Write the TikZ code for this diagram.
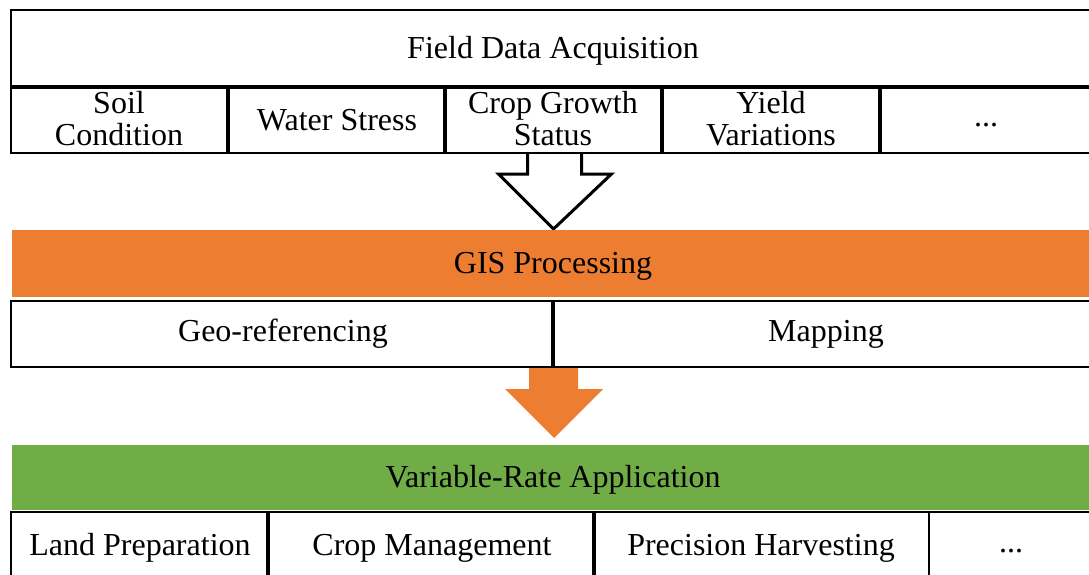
\documentclass[tikz,border=0pt]{standalone}
\usepackage{fontspec}
\setmainfont{Liberation Serif}
\usetikzlibrary{calc}
\definecolor{gisorange}{HTML}{ED7D31}
\definecolor{vragreen}{HTML}{70AD47}
\begin{document}
\begin{tikzpicture}[x=1pt,y=-1pt,
  every node/.style={font=\fontsize{32}{32}\selectfont, inner sep=0pt, outer sep=0pt},
  cell/.style={draw=black, line width=2.2pt, fill=white, anchor=north west, align=center},
  bar/.style={anchor=north west, inner sep=0pt},
  hollowarrow/.style={draw=black, line width=3pt, fill=white, line join=miter},
  fillarrow/.style={fill=gisorange, draw=none}
]
\useasboundingbox (0,0) rectangle (1089,575);
\clip (0,0) rectangle (1089,575);
\fill[white] (0,0) rectangle (1089,575);

% Top header
\node[cell, line width=2.8pt, minimum width=1090, minimum height=76] (fda) at (11,10) {};
\node at (553,51) (fdat) {Field Data Acquisition};

% Row of data boxes
\node[cell, minimum width=216, minimum height=65] (soil) at (11,88) {};
\node[cell, minimum width=215, minimum height=65] (water) at (229,88) {};
\node[cell, minimum width=215, minimum height=65] (crop) at (446,88) {};
\node[cell, minimum width=216, minimum height=65] (yield) at (663,88) {};
\node[cell, minimum width=230, minimum height=65] (dots1) at (881,88) {};
\node[align=center] at (119,119) {Soil\\Condition};
\node at (337,120) {Water Stress};
\node[align=center] at (553,119) {Crop Growth\\Status};
\node[align=center] at (771,119) {Yield\\Variations};
\node at (986,125) {...};

% Hollow arrow
\coordinate (ha) at ($(crop.south)+(0,1)$);
\draw[hollowarrow] ($(ha)+(-26,0)$) -- ($(ha)+(-26,20)$) -- ($(ha)+(-55,20)$) -- ($(ha)+(0,75)$) -- ($(ha)+(58,20)$) -- ($(ha)+(28,20)$) -- ($(ha)+(28,0)$);

% GIS Processing bar
\node[bar, fill=gisorange, minimum width=1080, minimum height=67] (gis) at (12,230) {};
\node at (553,266) {GIS Processing};

% Geo-referencing / Mapping
\node[cell, minimum width=541, minimum height=66] (geo) at (11,301) {};
\node[cell, minimum width=545, minimum height=66] (map) at (554,301) {};
\node at (283,334) {Geo-referencing};
\node at (826,334) {Mapping};

% Orange arrow
\coordinate (oa) at ($(geo.south east)+(2,1)$);
\fill[gisorange] ($(oa)+(-25,0)$) -- ($(oa)+(-25,21)$) -- ($(oa)+(-49,21)$) -- ($(oa)+(0,70)$) -- ($(oa)+(49,21)$) -- ($(oa)+(24,21)$) -- ($(oa)+(24,0)$) -- cycle;

% Variable-Rate Application bar
\node[bar, fill=vragreen, minimum width=1080, minimum height=65] (vra) at (12,445) {};
\node at (553,480) {Variable-Rate Application};

% Bottom row
\node[cell, minimum width=256, minimum height=80] (land) at (11,512) {};
\node[cell, minimum width=324, minimum height=80] (cm) at (269,512) {};
\node[cell, minimum width=334, minimum height=80] (ph) at (595,512) {};
\node[cell, minimum width=170, minimum height=80] (dots2) at (929,512) {};
\node at (140,548) {Land Preparation};
\node at (432,548) {Crop Management};
\node at (761,548) {Precision Harvesting};
\node at (1011,551) {...};
\end{tikzpicture}
\end{document}
